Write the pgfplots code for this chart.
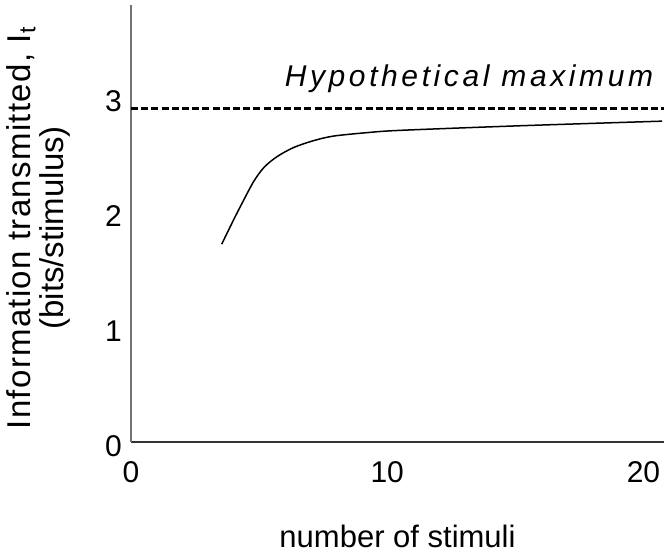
\documentclass[border=0pt]{standalone}
\usepackage{fontspec}
\setmainfont{Liberation Sans}
\usepackage{pgfplots}
\pgfplotsset{compat=1.18}

\begin{document}
\begin{tikzpicture}
% fixed page: 664x555 px at 0.5pt per px
\path[use as bounding box] (-65.5pt,-56.5pt) rectangle (266.5pt,221pt);
\begin{axis}[
    scale only axis,
    width=266.5pt, height=218.5pt,
    at={(0,0)}, anchor=south west,
    xmin=0, xmax=20.8,
    ymin=0, ymax=3.8,
    axis x line=bottom, axis y line=left,
    axis line style={-},
    x axis line style={black!80, line width=0.7pt},
    y axis line style={black!55, line width=0.7pt},
    xtick={0,10,20}, ytick={0,1,2,3},
    major tick length=0pt,
    /pgf/number format/assume math mode=true,
    tick label style={font=\fontsize{15}{17}\selectfont},
    xticklabel style={yshift=-6pt},
    yticklabel style={xshift=-1pt, yshift=-2pt},
    xlabel={number of stimuli},
    xlabel style={font=\fontsize{15.5}{18}\selectfont,
        at={(axis description cs:0.5,0)}, anchor=base, yshift=-53pt},
    ylabel={{\addfontfeature{LetterSpace=4}Information transmitted, I\textsubscript{t}}\\(bits/stimulus)},
    ylabel style={font=\fontsize{16.5}{16.5}\selectfont, align=center,
        at={(axis description cs:-0.174,0.49)}, anchor=center},
    clip=false,
]
% hypothetical maximum
\addplot[black, line width=1.1pt, dash pattern=on 3.5pt off 1.6pt] coordinates {(0,2.9) (20.8,2.9)};
% measured curve
\addplot[black, line width=0.75pt, smooth] coordinates {
    (3.54,1.72) (4.00,1.93) (4.39,2.10) (4.80,2.27) (5.20,2.39)
    (5.69,2.48) (6.34,2.56) (7.12,2.62) (7.90,2.66) (9.21,2.69)
    (10.51,2.71) (15.20,2.75) (20.73,2.79)
};
\node[anchor=base east, font=\fontsize{15}{17}\selectfont\itshape]
    at (axis cs:20.65,3.09) {\addfontfeature{LetterSpace=12}Hypothetical maximum};
\end{axis}
\end{tikzpicture}
\end{document}
